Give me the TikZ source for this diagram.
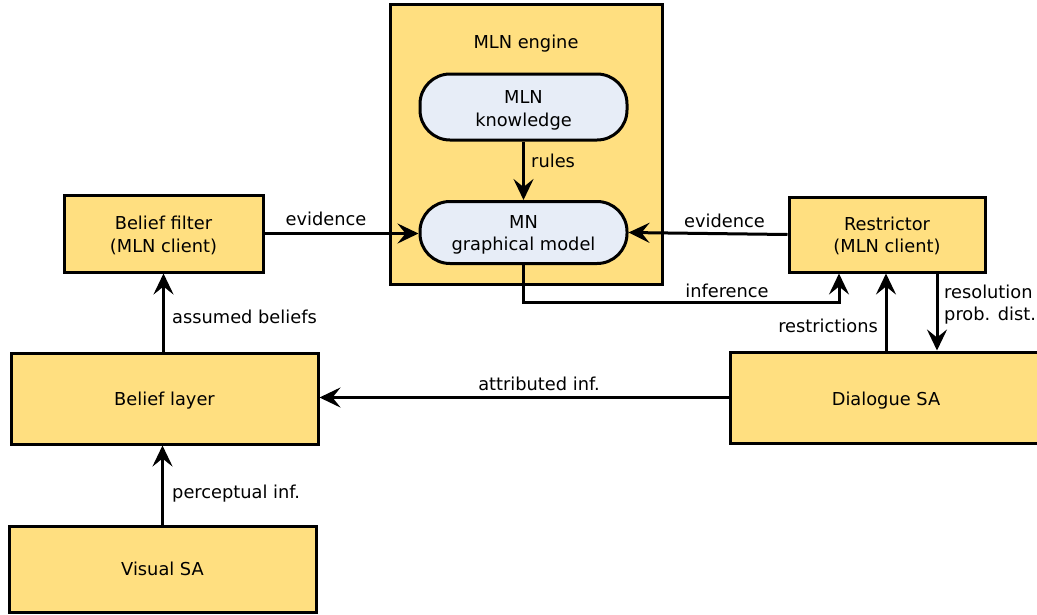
\documentclass[tikz,border=0pt]{standalone}
\usepackage{fontspec}
\setmainfont{DejaVu Sans}
\usetikzlibrary{arrows.meta}
\definecolor{boxfill}{HTML}{FFDF80}
\definecolor{pillfill}{HTML}{E7EDF7}
\begin{document}
\begin{tikzpicture}[x=1pt,y=-1pt,
  font=\fontsize{17.8}{22.7}\selectfont,
  module/.style={draw=black,line width=3pt,fill=boxfill,inner sep=0pt},
  pill/.style={draw=black,line width=3pt,fill=pillfill,inner sep=0pt,
    rounded corners=30pt},
  txt/.style={anchor=base,inner sep=0pt,text=black},
  flow/.style={draw=black,line width=3pt,
    -{Stealth[length=21pt,width=20pt,inset=8pt]}},
  lbl/.style={inner sep=0pt,text=black}]
\useasboundingbox (0,0) rectangle (1037,614);

% MLN engine container with its two inner stages
\node[module,minimum width=272pt,minimum height=280pt] (eng) at (526,144) {};
\node[txt] (engt) at (526,48.3) {MLN engine};
\node[pill,minimum width=207pt,minimum height=66pt] (kn) at (523.5,107) {};
\node[txt] (kn1) at (523.5,103.3) {MLN};
\node[txt] (kn2) at (523.5,126) {knowledge};
\node[pill,minimum width=207pt,minimum height=62pt] (gm) at (523.5,232.5) {};
\node[txt] (gm1) at (523.5,228.3) {MN};
\node[txt] (gm2) at (523.5,250.7) {graphical model};

% client and situated-awareness modules
\node[module,minimum width=199pt,minimum height=77pt] (bf) at (163.5,233.5) {};
\node[txt] (bf1) at (163.5,229.3) {Belief filter};
\node[txt] (bf2) at (163.5,252) {(MLN client)};
\node[module,minimum width=196pt,minimum height=75pt] (rs) at (887,234.5) {};
\node[txt] (rs1) at (887,230.7) {Restrictor};
\node[txt] (rs2) at (887,252) {(MLN client)};
\node[module,minimum width=307pt,minimum height=91pt] (bl) at (164.5,398.5) {};
\node[txt] (blt) at (164.5,405) {Belief layer};
\node[module,minimum width=307pt,minimum height=86pt] (vs) at (162.5,569) {};
\node[txt] (vst) at (162.5,575.7) {Visual SA};
\node[module,minimum width=312pt,minimum height=91pt] (ds) at (886,397.5) {};
\node[txt] (dst) at (886,405) {Dialogue SA};

% connectors
\draw[flow] (kn.south) -- (gm.north);
\draw[flow] (bf.east) -- (bf.east -| gm.west);
\draw[flow] (rs.west) -- (gm.east);
\coordinate (infc) at (839,302.3);
\draw[flow] (gm.south) |- (infc) -- (infc |- rs.south);
\draw[flow] (ds.north) -- (ds.north |- rs.south);
\draw[flow] ([xshift=50pt]rs.south) -- ([xshift=50pt]rs.south |- ds.north);
\draw[flow] (bf.south |- bl.north) -- (bf.south);
\draw[flow] (vs.north) -- (vs.north |- bl.south);
\draw[flow] (ds.west) -- (ds.west -| bl.east);

% connector labels
\node[lbl,anchor=base] (l1) at (326,225) {evidence};
\node[lbl,anchor=base] (l2) at (724.5,227.3) {evidence};
\node[lbl,anchor=base west] (l3) at (531,167) {rules};
\node[lbl,anchor=base] (l4) at (727,297) {inference};
\node[lbl,anchor=base west] (l5) at (172,323) {assumed beliefs};
\node[lbl,anchor=base west] (l6) at (172,498.5) {perceptual inf.};
\node[lbl,anchor=base] (l7) at (539,390) {attributed inf.};
\node[lbl,anchor=base east] (l8) at (878,332) {restrictions};
\node[lbl,anchor=base west] (l9) at (944,298.3) {resolution};
\node[lbl,anchor=base west] (l10) at (944,320.5) {prob. dist.};
\end{tikzpicture}
\end{document}
